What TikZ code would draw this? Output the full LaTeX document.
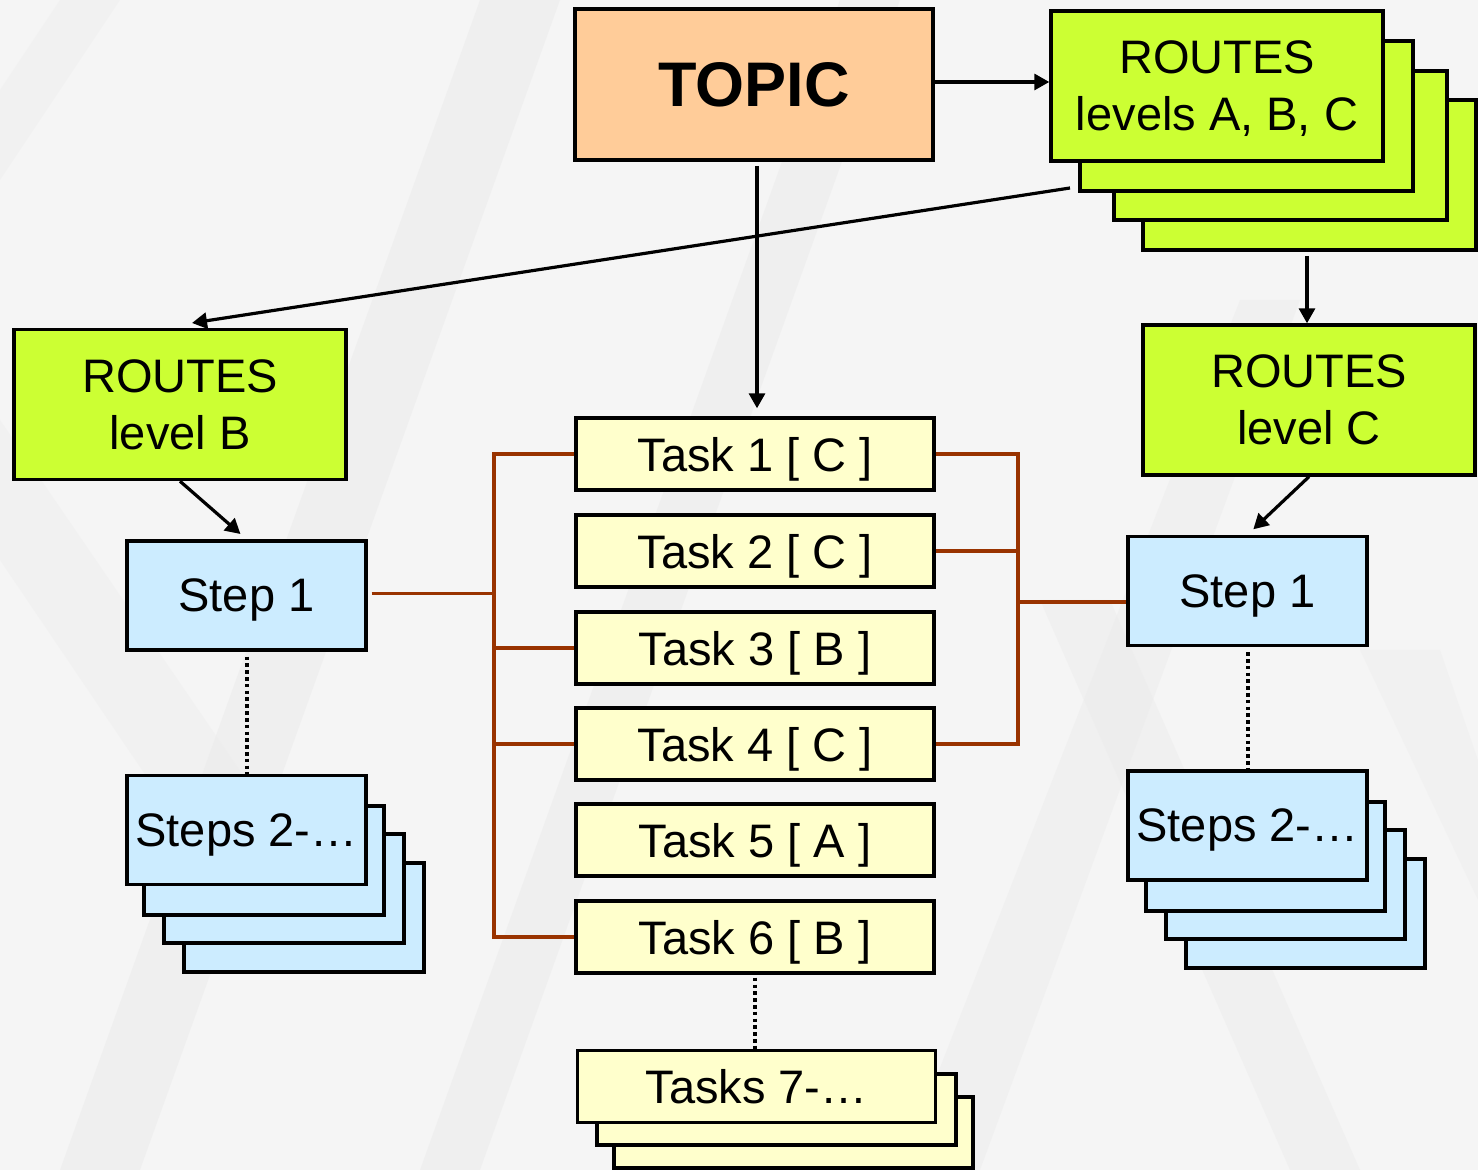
\documentclass[tikz,border=0pt]{standalone}
\usepackage{fontspec}
\setmainfont{Liberation Sans}
\usetikzlibrary{arrows.meta,calc}
\definecolor{bgcol}{HTML}{F5F5F5}
\definecolor{bandcol}{HTML}{ECECEC}
\definecolor{routegreen}{HTML}{CCFF33}
\definecolor{stepblue}{HTML}{CCECFF}
\definecolor{taskyellow}{HTML}{FFFFCC}
\definecolor{topicorange}{HTML}{FFCC99}
\definecolor{busbrown}{HTML}{993300}
\begin{document}
\begin{tikzpicture}[x=0.5pt,y=-0.5pt,
  box/.style={draw=black, line width=1.7pt, inner sep=0pt, align=center, text=black, text depth=0pt},
  backbox/.style={draw=black, line width=1.7pt},
  topicbox/.style={box, fill=topicorange, minimum width=179pt, minimum height=75.5pt, font=\fontsize{31.5}{36}\selectfont\bfseries},
  routebox/.style={box, fill=routegreen, minimum width=166pt, minimum height=75pt, font=\fontsize{23.5}{28.5}\selectfont},
  taskbox/.style={box, fill=taskyellow, minimum width=179pt, minimum height=36pt, font=\fontsize{23.5}{28}\selectfont},
  stepbox/.style={box, fill=stepblue, minimum width=119.5pt, minimum height=54.5pt, font=\fontsize{23.5}{28}\selectfont},
  arr/.style={line width=1.6pt, -{Triangle[length=7.5pt,width=8pt]}},
  bus/.style={draw=busbrown, line width=1.9pt},
  dots/.style={line width=2pt, dash pattern=on 1.8pt off 1.6pt}
]
% background
\useasboundingbox (0,0) rectangle (1478,1170);
\fill[bgcol] (0,0) rectangle (1478,1170);
\begin{scope}
\clip (0,0) rectangle (1478,1170);
\fill[bandcol, opacity=0.6] (60,1170) -- (140,1170) -- (560,0) -- (480,0) -- cycle;
\fill[bandcol, opacity=0.6] (420,1170) -- (480,1170) -- (900,0) -- (840,0) -- cycle;
\fill[bandcol, opacity=0.5] (900,1170) -- (980,1170) -- (1300,300) -- (1240,300) -- cycle;
\fill[bandcol, opacity=0.5] (1040,600) -- (1110,600) -- (1360,1170) -- (1290,1170) -- cycle;
\fill[bandcol, opacity=0.4] (0,420) -- (0,560) -- (230,900) -- (260,800) -- cycle;
\fill[bandcol, opacity=0.4] (1360,650) -- (1440,650) -- (1478,760) -- (1478,900) -- cycle;
\fill[bandcol, opacity=0.4] (60,0) -- (120,0) -- (0,180) -- (0,90) -- cycle;
\end{scope}

% stacked back boxes: ROUTES levels A, B, C
\draw[backbox, fill=routegreen] (1143,100) rectangle (1476,250);
\draw[backbox, fill=routegreen] (1114,71) rectangle (1447,220);
\draw[backbox, fill=routegreen] (1080,41) rectangle (1413,191);
% stacked back boxes: Steps (left)
\draw[backbox, fill=stepblue] (184,863) rectangle (424,972);
\draw[backbox, fill=stepblue] (164,834) rectangle (404,943);
\draw[backbox, fill=stepblue] (144,806) rectangle (384,915);
% stacked back boxes: Steps (right)
\draw[backbox, fill=stepblue] (1186,859) rectangle (1425,968);
\draw[backbox, fill=stepblue] (1166,830) rectangle (1405,939);
\draw[backbox, fill=stepblue] (1146,802) rectangle (1385,911);
% stacked back boxes: Tasks 7-
\draw[backbox, fill=taskyellow] (614,1097) rectangle (973,1168);
\draw[backbox, fill=taskyellow] (597,1074) rectangle (956,1145);

% main nodes
\node[topicbox] (topic) at (754,84.5) {TOPIC};
\node[routebox] (rabc) at (1217,86) {ROUTES\\levels A, B, C};
\node[routebox] (rb) at (180,404.5) {ROUTES\\level B};
\node[routebox] (rc) at (1309,400) {ROUTES\\level C};

\node[taskbox] (t1) at (755,454) {Task 1 [ C ]};
\node[taskbox] (t2) at (755,551) {Task 2 [ C ]};
\node[taskbox] (t3) at (755,648) {Task 3 [ B ]};
\node[taskbox] (t4) at (755,744) {Task 4 [ C ]};
\node[taskbox] (t5) at (755,840) {Task 5 [ A ]};
\node[taskbox] (t6) at (755,937) {Task 6 [ B ]};
\node[taskbox] (t7) at (756.5,1086.5) {Tasks 7-\dots};

\node[stepbox] (s1l) at (246.5,595.5) {Step 1};
\node[stepbox] (s1r) at (1247.5,591) {Step 1};
\node[stepbox] (s2l) at (246.5,830) {Steps 2-\dots};
\node[stepbox] (s2r) at (1247.5,825.5) {Steps 2-\dots};

% helper coordinates
\coordinate (stackbottom) at (1307,250);
\coordinate (lstart) at (1070,188);
\coordinate (lend) at (192,323);
\coordinate (tdown) at (757,160);
\coordinate (lbus) at (494,0);
\coordinate (rbus) at (1018,0);

% arrows
\draw[arr] (topic.east |- 0,82) -- (rabc.west |- 0,82);
\draw[arr, shorten <=3pt] (stackbottom) -- (rc.north -| stackbottom);
\draw[arr] (lstart) -- (lend);
\draw[arr, shorten <=3pt, shorten >=4pt] (tdown) -- (t1.north -| tdown);
\draw[arr, shorten >=4pt] (rb.south) -- (s1l.north);
\draw[arr, shorten >=4pt] (rc.south) -- (s1r.north);

% dotted links
\draw[dots] ($(s1l.south)+(0,5)$) -- (s2l.north);
\draw[dots] ($(s1r.south)+(0,5)$) -- (s2r.north);
\draw[dots] ($(t6.south)+(0,3)$) -- (t7.north -| t6.south);

% brown bus lines, left
\draw[bus] (t1.west) -- (t1.west -| lbus) -- (t6.west -| lbus) -- (t6.west);
\draw[bus] (t3.west) -- (t3.west -| lbus);
\draw[bus] (t4.west) -- (t4.west -| lbus);
\draw[bus] ($(s1l.east)+(4,-2)$) -- ($(s1l.east -| lbus)+(0,-2)$);
% brown bus lines, right
\draw[bus] (t1.east) -- (t1.east -| rbus) -- (t4.east -| rbus) -- (t4.east);
\draw[bus] (t2.east) -- (t2.east -| rbus);
\draw[bus] ($(s1r.west -| rbus)+(0,11)$) -- ($(s1r.west)+(0,11)$);
\end{tikzpicture}
\end{document}
